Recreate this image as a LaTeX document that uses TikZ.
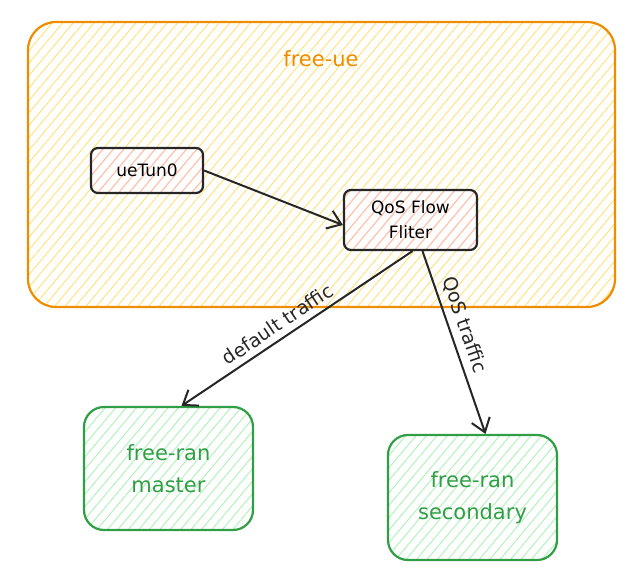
\documentclass[tikz,border=0pt]{standalone}
\usepackage{fontspec}
\setmainfont{DejaVu Sans}
\usetikzlibrary{arrows.meta,patterns.meta}

\definecolor{uestroke}{HTML}{F08C00}
\definecolor{uefill}{HTML}{FFE380}
\definecolor{procfill}{HTML}{FFBDBD}
\definecolor{ranstroke}{HTML}{2F9E44}
\definecolor{ranfill}{HTML}{B2F2BB}

\tikzset{
    hatch/.style={pattern={Lines[angle=50,distance=8pt,line width=1pt]}, pattern color=#1},
    zone/.style={draw=uestroke, line width=2.2pt, rounded corners=28pt, hatch=uefill},
    proc/.style={draw=black!85, line width=2.2pt, rounded corners=7pt, hatch=procfill,
        font=\fontsize{17}{25}\selectfont, align=center},
    ran/.style={draw=ranstroke, line width=2.2pt, rounded corners=20pt, hatch=ranfill,
        text=ranstroke, font=\fontsize{21}{32}\selectfont, align=center},
    flow/.style={-{Straight Barb[length=13pt,width=19pt]}, line width=2pt, black!85},
    flowlabel/.style={sloped, above=6pt, font=\fontsize{19}{22}\selectfont},
}

\begin{document}
\begin{tikzpicture}[x=1pt, y=-1pt, inner sep=0pt]
    \useasboundingbox (0, 0) rectangle (643, 583);
    \node[zone, minimum width=587, minimum height=285] at (321.5, 164.5) (freeue) {};
    \node[text=uestroke, font=\fontsize{21}{24}\selectfont] at (321, 59) (uelabel) {free-ue};
    \node[proc, minimum width=112, minimum height=45] at (147, 170.5) (uetun) {ueTun0};
    \node[proc, minimum width=133, minimum height=60] at (410.5, 220) (qos) {QoS Flow\\Fliter};
    \node[ran, minimum width=169, minimum height=123] at (168.5, 468.5) (master) {free-ran\\master};
    \node[ran, minimum width=169, minimum height=125] at (472.5, 497.5) (secondary) {free-ran\\secondary};
    \draw[flow] (uetun.east) -- ([yshift=-5]qos.west);
    \draw[flow] ([xshift=2]qos.south) -- node[flowlabel, pos=0.55] {default traffic} ([xshift=13]master.north);
    \draw[flow] ([xshift=12]qos.south) -- node[flowlabel, pos=0.43] {QoS traffic} ([xshift=13]secondary.north);
\end{tikzpicture}
\end{document}
